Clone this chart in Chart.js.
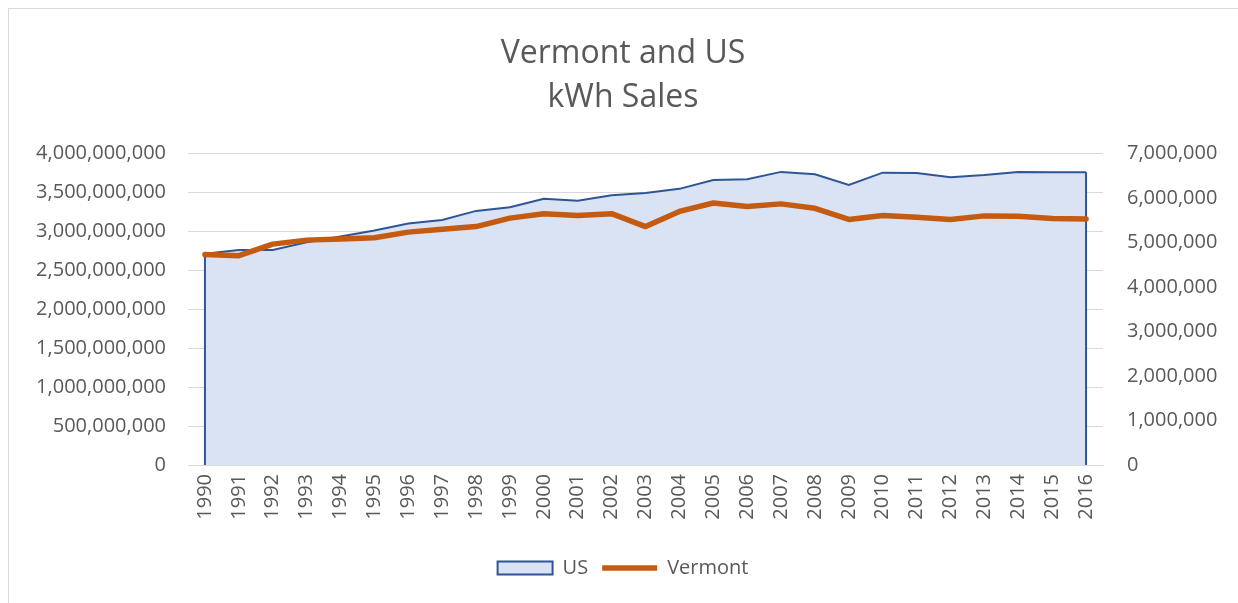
<!DOCTYPE html>
<html lang="en">

<head>
    <meta charset="UTF-8">
    <script src="https://cdn.jsdelivr.net/npm/chart.js"></script>
    <title>Vermont and US kWh Sales</title>
    <style>
        html, body { margin: 0; padding: 0; background: #fff; overflow: hidden; }
        .frame { position: absolute; left: 8px; top: 8px; width: 1400px; height: 800px; border: 1px solid #d9d9d9; }
        .box { position: absolute; left: 0; top: 0; width: 1238px; height: 603px; }
    </style>
</head>

<body>
    <div class="frame"></div>
    <div class="box">
        <canvas id="grafico"></canvas>
    </div>

<script>
    // dados
    var anos = ['1990', '1991', '1992', '1993', '1994', '1995', '1996', '1997', '1998', '1999',
        '2000', '2001', '2002', '2003', '2004', '2005', '2006', '2007', '2008', '2009',
        '2010', '2011', '2012', '2013', '2014', '2015', '2016'];

    var vendasUS = [2713000000, 2762000000, 2763000000, 2861000000, 2935000000, 3013000000, 3101000000,
        3146000000, 3264000000, 3312000000, 3421000000, 3394000000, 3465000000, 3494000000,
        3547000000, 3661000000, 3670000000, 3765000000, 3734000000, 3597000000, 3755000000,
        3750000000, 3695000000, 3725000000, 3765000000, 3759000000, 3762000000];

    var vendasVermont = [4730000, 4705000, 4965000, 5055000, 5080000, 5110000, 5235000, 5300000, 5360000,
        5550000, 5650000, 5610000, 5650000, 5360000, 5700000, 5890000, 5810000, 5870000,
        5770000, 5520000, 5610000, 5570000, 5520000, 5600000, 5590000, 5540000, 5530000];

    var cinza = '#595959';
    var fonte = "'Open Sans', 'Noto Sans', sans-serif";

    // bordas verticais da área (como no Excel)
    var bordasArea = {
        id: 'bordasArea',
        afterDatasetDraw: function (chart, args) {
            if (args.index !== 0) return;
            var pts = args.meta.data;
            var base = chart.scales.y.getPixelForValue(0);
            var ctx = chart.ctx;
            ctx.save();
            ctx.strokeStyle = '#2F5597';
            ctx.lineWidth = 2;
            [pts[0], pts[pts.length - 1]].forEach(function (p) {
                ctx.beginPath();
                ctx.moveTo(p.x, p.y);
                ctx.lineTo(p.x, base);
                ctx.stroke();
            });
            ctx.restore();
        }
    };

    var contexto = document.getElementById('grafico');
    new Chart(contexto, {
        type: 'line',
        data: {
            labels: anos,
            datasets: [
                {
                    label: 'US',
                    data: vendasUS,
                    yAxisID: 'y',
                    borderColor: '#2F5597',
                    borderWidth: 2,
                    backgroundColor: '#DAE3F3',
                    fill: 'origin',
                    pointRadius: 0,
                    pointStyle: 'rect',
                    tension: 0,
                    order: 1
                },
                {
                    label: 'Vermont',
                    data: vendasVermont,
                    yAxisID: 'y1',
                    borderColor: '#C55A11',
                    backgroundColor: '#C55A11',
                    borderWidth: 5.5,
                    borderCapStyle: 'round',
                    borderJoinStyle: 'round',
                    fill: false,
                    pointRadius: 0,
                    pointStyle: 'line',
                    tension: 0,
                    order: 0
                }
            ]
        },
        plugins: [bordasArea],
        options: {
            responsive: true,
            maintainAspectRatio: false,
            animation: false,
            layout: { padding: { left: 8, right: 0, top: 0, bottom: 15 } },
            plugins: {
                title: {
                    display: true,
                    text: ['Vermont and US', 'kWh Sales'],
                    color: cinza,
                    font: { family: fonte, size: 32, weight: 'normal', lineHeight: 1.4 },
                    padding: { top: 31, bottom: 33 }
                },
                legend: {
                    position: 'bottom',
                    labels: {
                        color: cinza,
                        font: { family: fonte, size: 20 },
                        usePointStyle: true,
                        pointStyleWidth: 55,
                        boxHeight: 13,
                        padding: 14,
                        sort: function (a, b) { return a.datasetIndex - b.datasetIndex; }
                    }
                },
                tooltip: { enabled: false }
            },
            scales: {
                x: {
                    offset: true,
                    grid: { display: false, drawTicks: false },
                    border: { display: true, color: '#d9d9d9', width: 1 },
                    ticks: {
                        color: cinza,
                        font: { family: fonte, size: 20 },
                        minRotation: 90,
                        maxRotation: 90,
                        padding: 9,
                        autoSkip: false
                    },
                    afterFit: function (scale) { scale.height = 79; }
                },
                y: {
                    position: 'left',
                    min: 0,
                    max: 4000000000,
                    grid: { color: '#d9d9d9', drawTicks: false },
                    border: { display: false },
                    ticks: {
                        stepSize: 500000000,
                        color: cinza,
                        font: { family: fonte, size: 20 },
                        padding: 22,
                        callback: function (v) { return v.toLocaleString('en-US'); }
                    },
                    afterFit: function (scale) { scale.width = 180; }
                },
                y1: {
                    position: 'right',
                    min: 0,
                    max: 7000000,
                    grid: { drawOnChartArea: false, drawTicks: false },
                    border: { display: false },
                    ticks: {
                        stepSize: 1000000,
                        color: cinza,
                        font: { family: fonte, size: 20 },
                        padding: 24,
                        callback: function (v) { return v.toLocaleString('en-US'); }
                    },
                    afterFit: function (scale) { scale.width = 135; }
                }
            }
        }
    });
</script>
</body>

</html>
